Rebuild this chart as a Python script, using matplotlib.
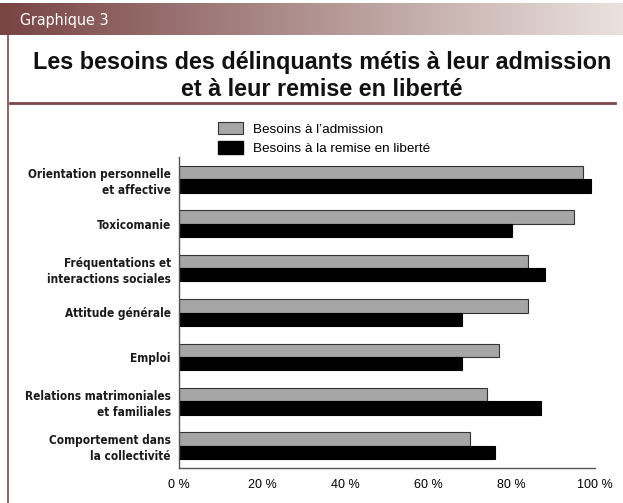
import numpy as np
import matplotlib
matplotlib.use("Agg")
import matplotlib.pyplot as plt
from matplotlib.patches import Patch
from matplotlib.lines import Line2D

categories = [
    "Orientation personnelle\net affective",
    "Toxicomanie",
    "Fréquentations et\ninteractions sociales",
    "Attitude générale",
    "Emploi",
    "Relations matrimoniales\net familiales",
    "Comportement dans\nla collectivité",
]
admission = [97, 95, 84, 84, 77, 74, 70]
liberation = [99, 80, 88, 68, 68, 87, 76]
series_labels = ["Besoins à l\u2019admission", "Besoins à la remise en liberté"]
xticks = [0, 20, 40, 60, 80, 100]
xticklabels = ["0 %", "20 %", "40 %", "60 %", "80 %", "100 %"]

W, H = 623, 503
fig = plt.figure(figsize=(W / 100, H / 100), dpi=100)

narrow = ["DejaVu Sans"]
sans = ["Liberation Sans", "DejaVu Sans"]
frame_col = "#7a4848"

# header band with gradient
hax = fig.add_axes([0, (H - 35) / H, 1, 32 / H])
left = np.array([0x78, 0x44, 0x44]) / 255
right = np.array([0xea, 0xe2, 0xde]) / 255
t = np.linspace(0, 1, 300)[:, None]
grad = left * (1 - t) + right * t
hax.imshow(grad[None, :, :], aspect="auto", extent=[0, 1, 0, 1])
hax.set_axis_off()
hax.text(20 / W, 0.45, "Graphique 3", color="white", fontsize=11.5,
         family=narrow, fontstretch="condensed", va="center", ha="left",
         transform=hax.transAxes)

# frame lines
fig.add_artist(Line2D([8 / W, 8 / W], [0, (H - 35) / H], color=frame_col,
                      lw=1.2, transform=fig.transFigure))
fig.add_artist(Line2D([10 / W, 615 / W], [(H - 103) / H, (H - 103) / H],
                      color=frame_col, lw=2, transform=fig.transFigure))

fig.text(322 / W, (H - 76) / H,
         "Les besoins des délinquants métis à leur admission\net à leur remise en liberté",
         ha="center", va="center", fontsize=16.8, fontweight="bold",
         family=sans, linespacing=1.22, color="#111111")

ax = fig.add_axes([179 / W, 35 / H, (595 - 179) / W, (468 - 157) / H])
y = np.arange(len(categories))
h = 0.3
ax.barh(y - h / 2, admission, height=h, color="#a6a6a6", edgecolor="#333333",
        linewidth=0.8, label=series_labels[0])
ax.barh(y + h / 2, liberation, height=h, color="black", edgecolor="black",
        linewidth=0.8, label=series_labels[1])
ax.set_ylim(len(categories) - 0.5, -0.5)
ax.set_xlim(0, 100)
ax.set_yticks(y)
ax.set_yticklabels(categories, family=narrow, fontstretch="condensed",
                   fontweight="bold", fontsize=8.5, linespacing=1.32,
                   color="#1a1a1a")
ax.set_xticks(xticks)
ax.set_xticklabels(xticklabels, family=sans, fontsize=9)
ax.tick_params(length=0)
ax.tick_params(axis="y", pad=6)
ax.tick_params(axis="x", pad=8)
for s in ["top", "right"]:
    ax.spines[s].set_visible(False)
for s in ["left", "bottom"]:
    ax.spines[s].set_color("#555555")
    ax.spines[s].set_linewidth(1)

handles = [Patch(facecolor="#a6a6a6", edgecolor="#333333", linewidth=0.8),
           Patch(facecolor="black", edgecolor="black")]
fig.legend(handles, series_labels, loc="upper left",
           bbox_to_anchor=(218 / W, (H - 122) / H), frameon=False,
           borderpad=0, borderaxespad=0,
           prop={"family": sans, "size": 9.7}, handlelength=1.85,
           handleheight=1.05, labelspacing=0.4, handletextpad=0.75)

fig.savefig("out.png", dpi=100, facecolor="white")
